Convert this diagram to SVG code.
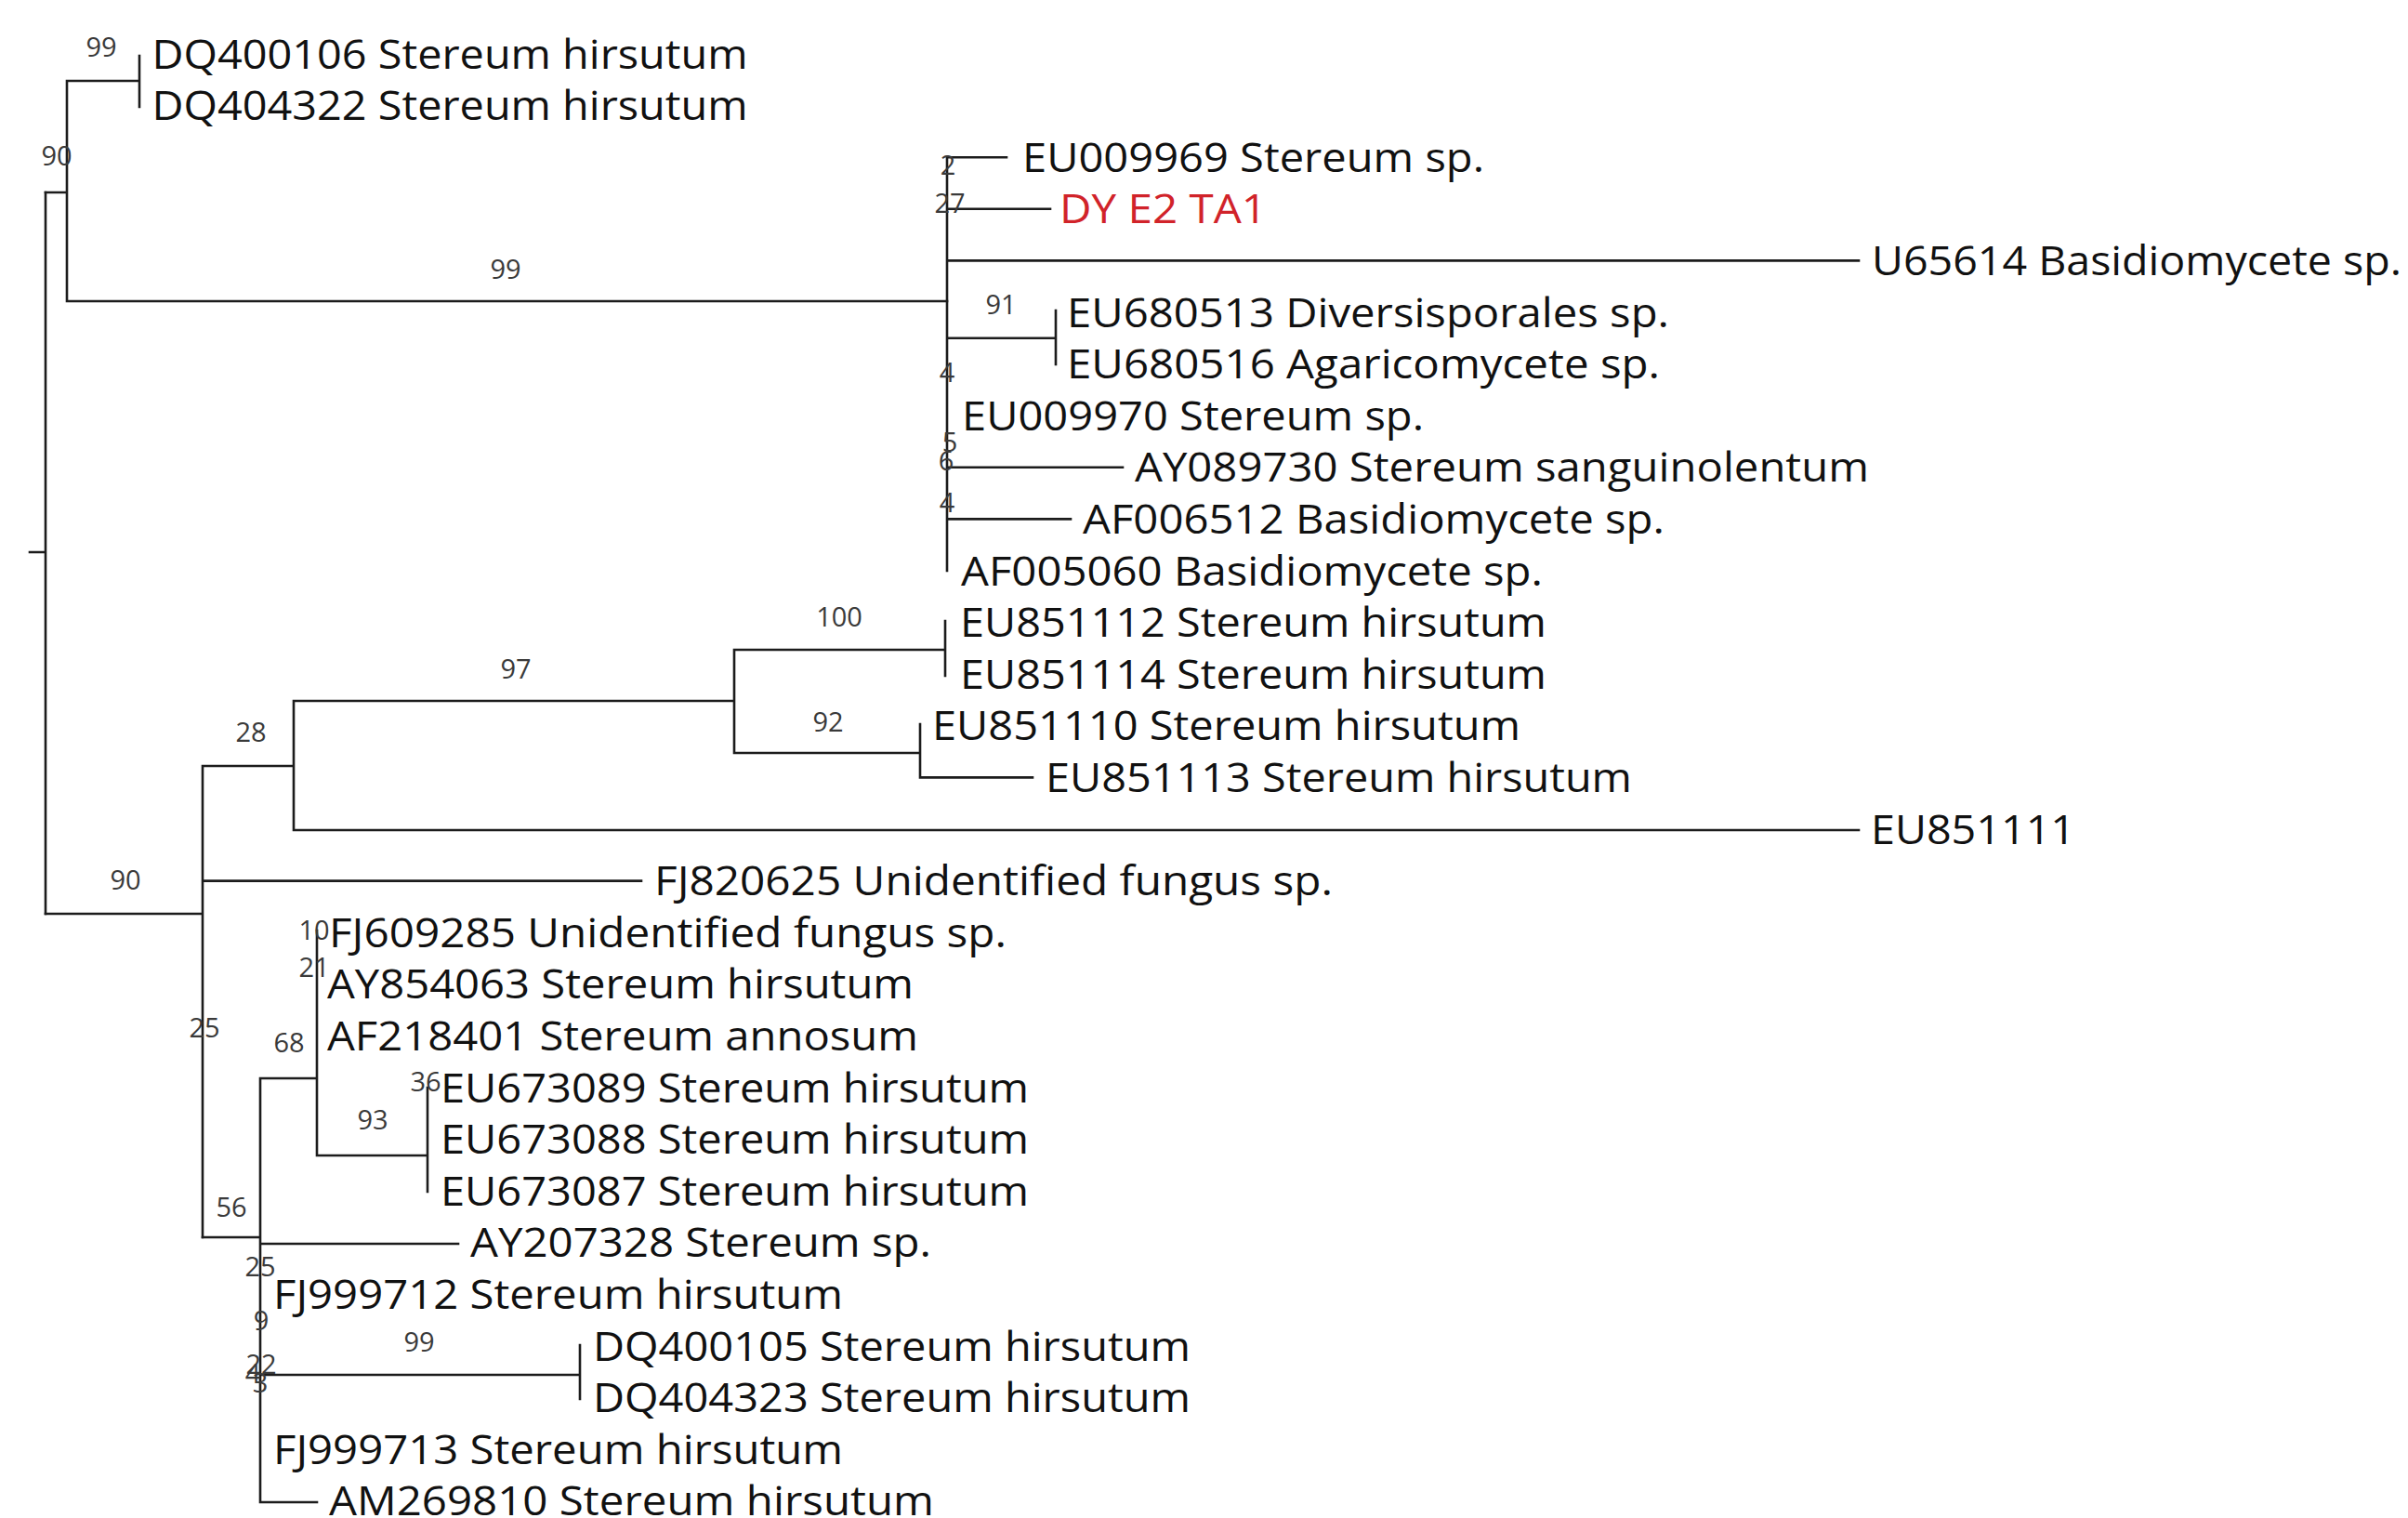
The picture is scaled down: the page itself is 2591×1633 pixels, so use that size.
<svg xmlns="http://www.w3.org/2000/svg" width="2591" height="1633" viewBox="0 0 2591 1633">
<style>
.br{fill:none;stroke:#1c1c1c;stroke-width:2.6;stroke-linecap:square}
.lf{font-family:"Open Sans","Noto Sans","Liberation Sans",sans-serif;font-size:44px;fill:#111}
.red{fill:#d1232a}
.bs{font-family:"Open Sans","Noto Sans","Liberation Sans",sans-serif;font-size:29px;fill:#3a3a3a;text-anchor:middle}
</style>
<rect width="2591" height="1633" fill="#fff"/>
<g id="connectors">
<path class="br" d="M32 594H49M49 207V983"/>
<path class="br" d="M49 207H72M72 87V324M72 87H150M150 60V115M72 324H1019"/>
<path class="br" d="M1019 169V614M1019 169.2H1083M1019 224.8H1130M1019 280.4H2000M1019 363.8H1136M1136 334V392M1019 502.8H1208M1019 558.4H1152"/>
<path class="br" d="M49 983H218M218 824V1331M218 824H316M316 754V893M316 754H790M790 699V810M790 699H1017M1017 668V727M790 810H990M990 779V836.4H1111M316 893H2000M218 947.6H690"/>
<path class="br" d="M218 1331H280M280 1160V1616M280 1160H341M341 1001V1243M341 1243H460M460 1170V1282M280 1338H493M280 1479H624M624 1447V1505M280 1616H341"/>
</g>
<g id="leaf-DQ400106"><text class="lf" x="163.6" y="73.5" textLength="641" lengthAdjust="spacingAndGlyphs">DQ400106 Stereum hirsutum</text></g>
<g id="leaf-DQ404322"><text class="lf" x="163.6" y="129.1" textLength="641" lengthAdjust="spacingAndGlyphs">DQ404322 Stereum hirsutum</text></g>
<g id="leaf-EU009969"><text class="lf" x="1100" y="184.7" textLength="497" lengthAdjust="spacingAndGlyphs">EU009969 Stereum sp.</text></g>
<g id="leaf-DYE2TA1"><text class="lf red" x="1140" y="240.3" textLength="223" lengthAdjust="spacingAndGlyphs">DY E2 TA1</text></g>
<g id="leaf-U65614"><text class="lf" x="2014" y="295.9" textLength="570" lengthAdjust="spacingAndGlyphs">U65614 Basidiomycete sp.</text></g>
<g id="leaf-EU680513"><text class="lf" x="1148" y="351.5" textLength="648" lengthAdjust="spacingAndGlyphs">EU680513 Diversisporales sp.</text></g>
<g id="leaf-EU680516"><text class="lf" x="1148" y="407.1" textLength="638" lengthAdjust="spacingAndGlyphs">EU680516 Agaricomycete sp.</text></g>
<g id="leaf-EU009970"><text class="lf" x="1035" y="462.7" textLength="497" lengthAdjust="spacingAndGlyphs">EU009970 Stereum sp.</text></g>
<g id="leaf-AY089730"><text class="lf" x="1221" y="518.3" textLength="790" lengthAdjust="spacingAndGlyphs">AY089730 Stereum sanguinolentum</text></g>
<g id="leaf-AF006512"><text class="lf" x="1165" y="573.9" textLength="626" lengthAdjust="spacingAndGlyphs">AF006512 Basidiomycete sp.</text></g>
<g id="leaf-AF005060"><text class="lf" x="1034" y="629.5" textLength="626" lengthAdjust="spacingAndGlyphs">AF005060 Basidiomycete sp.</text></g>
<g id="leaf-EU851112"><text class="lf" x="1033" y="685.1" textLength="631" lengthAdjust="spacingAndGlyphs">EU851112 Stereum hirsutum</text></g>
<g id="leaf-EU851114"><text class="lf" x="1033" y="740.7" textLength="631" lengthAdjust="spacingAndGlyphs">EU851114 Stereum hirsutum</text></g>
<g id="leaf-EU851110"><text class="lf" x="1003" y="796.3" textLength="633" lengthAdjust="spacingAndGlyphs">EU851110 Stereum hirsutum</text></g>
<g id="leaf-EU851113"><text class="lf" x="1125" y="851.9" textLength="631" lengthAdjust="spacingAndGlyphs">EU851113 Stereum hirsutum</text></g>
<g id="leaf-EU851111"><text class="lf" x="2013" y="907.5" textLength="220" lengthAdjust="spacingAndGlyphs">EU851111</text></g>
<g id="leaf-FJ820625"><text class="lf" x="704" y="963.1" textLength="730" lengthAdjust="spacingAndGlyphs">FJ820625 Unidentified fungus sp.</text></g>
<g id="leaf-FJ609285"><text class="lf" x="354" y="1018.7" textLength="729" lengthAdjust="spacingAndGlyphs">FJ609285 Unidentified fungus sp.</text></g>
<g id="leaf-AY854063"><text class="lf" x="352" y="1074.3" textLength="631" lengthAdjust="spacingAndGlyphs">AY854063 Stereum hirsutum</text></g>
<g id="leaf-AF218401"><text class="lf" x="352" y="1129.9" textLength="636" lengthAdjust="spacingAndGlyphs">AF218401 Stereum annosum</text></g>
<g id="leaf-EU673089"><text class="lf" x="474" y="1185.5" textLength="633" lengthAdjust="spacingAndGlyphs">EU673089 Stereum hirsutum</text></g>
<g id="leaf-EU673088"><text class="lf" x="474" y="1241.1" textLength="633" lengthAdjust="spacingAndGlyphs">EU673088 Stereum hirsutum</text></g>
<g id="leaf-EU673087"><text class="lf" x="474" y="1296.7" textLength="633" lengthAdjust="spacingAndGlyphs">EU673087 Stereum hirsutum</text></g>
<g id="leaf-AY207328"><text class="lf" x="506" y="1352.3" textLength="496" lengthAdjust="spacingAndGlyphs">AY207328 Stereum sp.</text></g>
<g id="leaf-FJ999712"><text class="lf" x="294" y="1407.9" textLength="613" lengthAdjust="spacingAndGlyphs">FJ999712 Stereum hirsutum</text></g>
<g id="leaf-DQ400105"><text class="lf" x="638" y="1463.5" textLength="643" lengthAdjust="spacingAndGlyphs">DQ400105 Stereum hirsutum</text></g>
<g id="leaf-DQ404323"><text class="lf" x="638" y="1519.1" textLength="643" lengthAdjust="spacingAndGlyphs">DQ404323 Stereum hirsutum</text></g>
<g id="leaf-FJ999713"><text class="lf" x="294" y="1574.7" textLength="613" lengthAdjust="spacingAndGlyphs">FJ999713 Stereum hirsutum</text></g>
<g id="leaf-AM269810"><text class="lf" x="354" y="1630.3" textLength="651" lengthAdjust="spacingAndGlyphs">AM269810 Stereum hirsutum</text></g>
<g id="support-labels">
<text class="bs" x="109" y="60.5">99</text>
<text class="bs" x="61" y="177.5">90</text>
<text class="bs" x="544" y="299.5">99</text>
<text class="bs" x="1020" y="187.5">2</text>
<text class="bs" x="1022" y="228.5">27</text>
<text class="bs" x="1077" y="337.5">91</text>
<text class="bs" x="1019" y="410.5">4</text>
<text class="bs" x="1022" y="485.5">5</text>
<text class="bs" x="1018" y="505.5">6</text>
<text class="bs" x="1019" y="550.5">4</text>
<text class="bs" x="135" y="956.5">90</text>
<text class="bs" x="270" y="797.5">28</text>
<text class="bs" x="555" y="729.5">97</text>
<text class="bs" x="903" y="673.5">100</text>
<text class="bs" x="891" y="786.5">92</text>
<text class="bs" x="220" y="1115.5">25</text>
<text class="bs" x="249" y="1308.5">56</text>
<text class="bs" x="311" y="1131.5">68</text>
<text class="bs" x="338" y="1010.5">10</text>
<text class="bs" x="338" y="1050.5">21</text>
<text class="bs" x="458" y="1173.5">36</text>
<text class="bs" x="401" y="1214.5">93</text>
<text class="bs" x="280" y="1372.5">25</text>
<text class="bs" x="281" y="1430.5">9</text>
<text class="bs" x="451" y="1453.5">99</text>
<text class="bs" x="281" y="1477.5">22</text>
<text class="bs" x="272" y="1487.5">4</text>
<text class="bs" x="280" y="1497.5">3</text>
</g>
</svg>
